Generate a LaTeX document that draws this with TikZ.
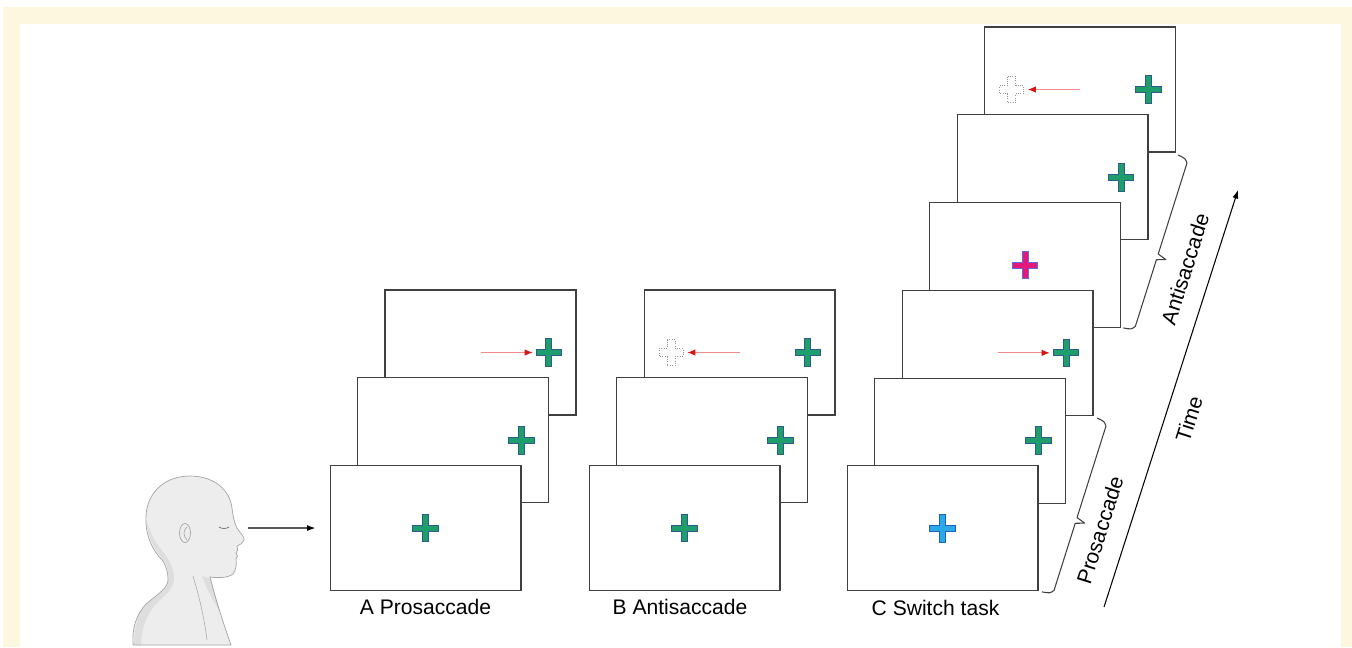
\documentclass[tikz,border=0pt]{standalone}
\usepackage{fontspec}
\setmainfont{Liberation Sans}
\usetikzlibrary{positioning,arrows.meta}

\definecolor{paper}{RGB}{253,247,223}
\definecolor{frameline}{RGB}{64,64,64}
\definecolor{cuegreen}{RGB}{30,158,106}
\definecolor{cueedge}{RGB}{45,92,140}
\definecolor{cueblue}{RGB}{42,168,232}
\definecolor{blueedge}{RGB}{30,96,186}
\definecolor{cuepink}{RGB}{228,24,122}
\definecolor{pinkedge}{RGB}{96,108,216}
\definecolor{sacline}{RGB}{242,140,140}
\definecolor{sactip}{RGB}{214,20,20}
\definecolor{skin}{RGB}{237,237,237}
\definecolor{skinshade}{RGB}{222,222,222}
\definecolor{skinline}{RGB}{165,165,165}

% fixation cross: name, position, fill, edge
\newcommand{\fixcross}[4]{%
  \node[crossbox] (#1) at #2 {};
  \draw[line width=0.14cm, #4] (#1.west) -- (#1.east) (#1.north) -- (#1.south);
  \draw[line width=0.1cm, #3, shorten <=0.02cm, shorten >=0.02cm] (#1.west) -- (#1.east);
  \draw[line width=0.1cm, #3, shorten <=0.02cm, shorten >=0.02cm] (#1.north) -- (#1.south);
}
% dotted outline where the eyes should go
\newcommand{\ghostcross}[2]{%
  \node[crossbox] (#1) at #2 {};
  \draw[ghost, shift={(#1.center)}] (-4,-13) -- (4,-13) -- (4,-4) -- (12,-4) -- (12,4) -- (4,4)
    -- (4,13) -- (-4,13) -- (-4,4) -- (-12,4) -- (-12,-4) -- (-4,-4) -- cycle;
}
% square-ish brace along the time axis: start point, length
\newcommand{\blockbrace}[2]{%
  \begin{scope}[shift={(#1)}, x={(-0.00602cm,-0.01906cm)}, y={(0.01906cm,-0.00602cm)}]
    \draw[span] (0,0) .. controls (1,8) .. (5,11) -- ({0.57*#2-3},11) -- ({0.57*#2},20)
      -- ({0.57*#2+3},11) -- ({#2-5},11) .. controls ({#2-1},8) .. (#2,0);
  \end{scope}
}

\begin{document}
\begin{tikzpicture}[
    x=0.02cm, y=-0.02cm,
    screen/.style={rectangle, draw=frameline, fill=white, line width=0.6pt, minimum width=3.82cm, minimum height=2.5cm, inner sep=0pt},
    crossbox/.style={inner sep=0pt, minimum width=0.52cm, minimum height=0.56cm},
    ghost/.style={draw=gray!85, densely dotted, line width=0.35pt},
    caption/.style={font=\fontsize{12}{14}\selectfont, inner sep=0pt},
    tag/.style={font=\fontsize{12}{14}\selectfont, inner sep=0pt},
    saccade/.style={-{Latex[length=0.16cm, width=0.13cm, color=sactip]}, draw=sacline, line width=0.6pt, shorten >=0.06cm},
    look/.style={-{Latex[length=0.17cm, width=0.12cm]}, line width=0.7pt, shorten >=0.28cm},
    span/.style={draw=frameline, line width=0.6pt, line join=round},
    timeline/.style={-{Latex[length=0.17cm, width=0.12cm]}, line width=0.6pt}
]
\useasboundingbox (0,0) rectangle (1352,647);

% page frame
\fill[paper] (3,7) rectangle (1352,647);
\fill[white] (20,24) rectangle (1341,647);

% viewer
\path[save path=\headline] (133,645) .. controls (132,628) and (136,615) .. (146,604)
  .. controls (158,594) and (168,588) .. (168,580)
  .. controls (168,572) and (166,566) .. (163,561)
  .. controls (150,548) and (145,532) .. (146,515)
  .. controls (148,490) and (167,476) .. (190,476)
  .. controls (214,476) and (230,490) .. (232,508)
  .. controls (233,516) and (234,522) .. (237,528)
  .. controls (240,533) and (245,537) .. (244,540)
  .. controls (243,543) and (240,545) .. (237,546)
  .. controls (238,549) and (238,551) .. (236,553)
  .. controls (238,555) and (238,557) .. (236,559)
  .. controls (237,564) and (236,570) .. (233,574)
  .. controls (228,578) and (218,578) .. (210,577)
  .. controls (215,598) and (224,625) .. (231,645) -- cycle;
\fill[skin, use path=\headline];
\fill[skinshade] (147,522) .. controls (148,540) and (156,552) .. (165,562)
  .. controls (169,570) and (170,582) .. (166,588)
  .. controls (158,596) and (146,603) .. (140,612)
  .. controls (136,622) and (134,634) .. (134,645) -- (141,645)
  .. controls (141,630) and (146,616) .. (155,605)
  .. controls (164,596) and (174,589) .. (174,579)
  .. controls (174,567) and (168,558) .. (161,549)
  .. controls (154,541) and (150,532) .. (147,522) -- cycle;
\fill[skinshade] (202,576) .. controls (206,578) and (210,578) .. (211,578)
  .. controls (214,592) and (218,604) .. (221,614)
  .. controls (214,602) and (207,590) .. (202,576) -- cycle;
\draw[skinline, line width=0.4pt, use path=\headline];
\draw[skinline, fill=skin, line width=0.4pt] (185,533) ellipse (5.5 and 9.5);
\draw[skinline, line width=0.35pt] (187,527) .. controls (183,530) and (183,536) .. (187,540);
\draw[skinline!70!black, line width=0.4pt] (219,527) .. controls (222,529) and (226,529) .. (229,527);
\draw[skinline, line width=0.3pt] (193,576) .. controls (199,596) and (204,616) .. (207,640);
\coordinate (gaze) at (248,528);

% A: prosaccade trials
\node[screen] (a3) at (480.5,352.5) {};
\fixcross{a3x}{([xshift=1.37cm]a3.center)}{cuegreen}{cueedge}
\draw[saccade] (a3.center) -- (a3x);
\node[screen, on grid, below left=1.756cm and 0.55cm of a3] (a2) {};
\fixcross{a2x}{([xshift=1.37cm]a2.center)}{cuegreen}{cueedge}
\node[screen, on grid, below left=1.756cm and 0.55cm of a2] (a1) {};
\fixcross{a1x}{(a1.center)}{cuegreen}{cueedge}
\node[caption, below=0.16cm of a1] (a-cap) {A Prosaccade};

% B: antisaccade trials
\node[screen] (b3) at (739.5,352.5) {};
\fixcross{b3x}{([xshift=1.37cm]b3.center)}{cuegreen}{cueedge}
\ghostcross{b3g}{([xshift=-1.37cm]b3.center)}
\draw[saccade] (b3.center) -- (b3g);
\node[screen, on grid, below left=1.756cm and 0.55cm of b3] (b2) {};
\fixcross{b2x}{([xshift=1.37cm]b2.center)}{cuegreen}{cueedge}
\node[screen, on grid, below left=1.756cm and 0.55cm of b2] (b1) {};
\fixcross{b1x}{(b1.center)}{cuegreen}{cueedge}
\node[caption, below=0.16cm of b1, xshift=-0.09cm] (b-cap) {B Antisaccade};

% C: switch task, anti block on top of pro block
\node[screen] (c6) at (1080,89.5) {};
\fixcross{c6x}{([xshift=1.37cm]c6.center)}{cuegreen}{cueedge}
\ghostcross{c6g}{([xshift=-1.37cm]c6.center)}
\draw[saccade] (c6.center) -- (c6g);
\node[screen, on grid, below left=1.756cm and 0.55cm of c6] (c5) {};
\fixcross{c5x}{([xshift=1.37cm]c5.center)}{cuegreen}{cueedge}
\node[screen, on grid, below left=1.756cm and 0.55cm of c5] (c4) {};
\fixcross{c4x}{(c4.center)}{cuepink}{pinkedge}
\node[screen, on grid, below left=1.756cm and 0.55cm of c4] (c3) {};
\fixcross{c3x}{([xshift=1.37cm]c3.center)}{cuegreen}{cueedge}
\draw[saccade] (c3.center) -- (c3x);
\node[screen, on grid, below left=1.756cm and 0.55cm of c3] (c2) {};
\fixcross{c2x}{([xshift=1.37cm]c2.center)}{cuegreen}{cueedge}
\node[screen, on grid, below left=1.756cm and 0.55cm of c2] (c1) {};
\fixcross{c1x}{(c1.center)}{cueblue}{blueedge}
\node[caption, below=0.16cm of c1, xshift=-0.14cm] (c-cap) {C Switch task};

% viewer looks at the first screen
\draw[look] (gaze) -- (a1);

% blocks and time axis
\coordinate (pro-top) at (1097,418);
\blockbrace{pro-top}{182.5}
\node[tag, rotate=72.4] (pro-lbl) at (1100,530) {Prosaccade};
\coordinate (anti-top) at (1178,155);
\blockbrace{anti-top}{181.5}
\node[tag, rotate=72.4] (anti-lbl) at (1185,269) {Antisaccade};
\coordinate (t-start) at (1104,607);
\coordinate (t-end) at (1238,190);
\draw[timeline] (t-start) -- (t-end);
\node[tag, rotate=72.2] (t-lbl) at (1189,419) {Time};

\end{tikzpicture}
\end{document}
